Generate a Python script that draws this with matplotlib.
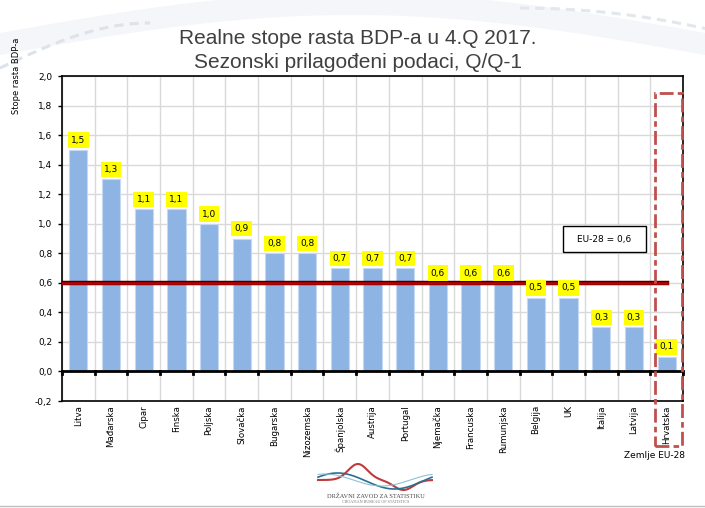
import numpy as np
import matplotlib
matplotlib.use('Agg')
import matplotlib.pyplot as plt
import matplotlib.patheffects as pe
from matplotlib.patches import Rectangle

# data
countries = ['Litva', 'Mađarska', 'Cipar', 'Finska', 'Poljska', 'Slovačka', 'Bugarska',
             'Nizozemska', 'Španjolska', 'Austrija', 'Portugal', 'Njemačka', 'Francuska',
             'Rumunjska', 'Belgija', 'UK', 'Italija', 'Latvija', 'Hrvatska']
growth = [1.5, 1.3, 1.1, 1.1, 1.0, 0.9, 0.8, 0.8, 0.7, 0.7, 0.7, 0.6, 0.6, 0.6, 0.5, 0.5, 0.3, 0.3, 0.1]
eu28 = 0.6
yticks = [-0.2, 0.0, 0.2, 0.4, 0.6, 0.8, 1.0, 1.2, 1.4, 1.6, 1.8, 2.0]

title = 'Realne stope rasta BDP-a u 4.Q 2017.\nSezonski prilagođeni podaci, Q/Q-1'

fig = plt.figure(figsize=(7.05, 5.08), dpi=100)

# faint background swooshes
bg = fig.add_axes([0, 0, 1, 1], zorder=-5)
bg.set_xlim(0, 705)
bg.set_ylim(508, 0)
bg.axis('off')
t = np.linspace(0, 705, 200)
mid = 45 - 40 * np.sin(t / 705 * np.pi)
bg.fill_between(t, mid + 10, mid - 12, color='#f4f6f9', lw=0)
ta = np.linspace(0, 150, 60)
bg.plot(ta, 68 - 45 * np.sin(ta / 300 * np.pi), color='#dde3ea', lw=2.2, ls=(0, (3, 2)))
tb = np.linspace(520, 705, 60)
bg.plot(tb, 8 + 0.0006 * (tb - 520) ** 2, color='#e2e7ed', lw=2.2, ls=(0, (3, 2)))
bg.plot([0, 705], [506, 506], color='#bfbfbf', lw=1)

# logo
lx = np.linspace(318, 432, 200)
u = (lx - 318) / 114
bg.plot(lx, 480 - 16 * np.exp(-((u - 0.35) / 0.12) ** 2) + 10 * np.exp(-((u - 0.75) / 0.12) ** 2),
        color='#c0393b', lw=1.5)
bg.plot(lx, 481 - 8 * np.sin(u * 2 * np.pi + 0.5), color='#2a6f8f', lw=1.2)
bg.plot(lx, 480 - 6 * np.sin(u * 2 * np.pi + 1.2), color='#8fc1d6', lw=0.8)
bg.text(376, 496, 'DRŽAVNI ZAVOD ZA STATISTIKU', ha='center', va='center',
        fontsize=4.6, family='Liberation Serif', color='#4a4a4a')
bg.text(376, 502, 'CROATIAN BUREAU OF STATISTICS', ha='center', va='center',
        fontsize=3, family='Liberation Serif', color='#7a7a7a')

ax = fig.add_axes([62 / 705, 1 - 401 / 508, 621 / 705, 325 / 508])
x = np.arange(len(countries))
ax.bar(x, growth, width=0.56, color='#8eb4e3', edgecolor='#c6d9f1', linewidth=0.8, zorder=3)

for xi, v in zip(x, growth):
    ax.annotate(f'{v:.1f}'.replace('.', ','), (xi, v), xytext=(0, 7), textcoords='offset points',
                ha='center', va='center', fontsize=6.5, family='DejaVu Sans', zorder=5,
                bbox=dict(boxstyle='square,pad=0.35', fc='#ffff00', ec='none'))

ax.plot([-0.5, len(countries) - 1], [eu28, eu28], color='#c00000', lw=1.8, zorder=4,
        path_effects=[pe.Stroke(linewidth=3.2, foreground='#400000'), pe.Normal()])
ax.axhline(0, color='black', lw=2, zorder=4)

ax.set_xlim(-0.5, len(countries) - 0.5)
ax.set_ylim(-0.2, 2.0)
ax.set_yticks(yticks)
ax.set_yticklabels([f'{v:.1f}'.replace('.', ',') for v in yticks], fontsize=6.5)
ax.set_xticks(x)
ax.set_xticklabels(countries, rotation=90, fontsize=6.2, va='top')
ax.tick_params(axis='x', length=0, pad=3)
ax.tick_params(axis='y', length=3, width=1, pad=4)
ax.set_xticks(np.arange(-0.5, len(countries)), minor=True)
ax.grid(True, which='minor', axis='x', color='#d9d9d9', lw=1, zorder=0)
ax.grid(True, which='major', axis='y', color='#d9d9d9', lw=1, zorder=0)
ax.tick_params(axis='x', which='minor', length=0)
for s in ax.spines.values():
    s.set_color('black')
    s.set_linewidth(1.2)

# ticks on zero line
for b in np.arange(-0.5, len(countries)):
    ax.plot([b, b], [0, -0.015], color='black', lw=2, zorder=4, clip_on=False)

ax.set_ylabel('Stope rasta BDP-a', fontsize=6)
ax.yaxis.set_label_coords(-0.066, 1.0)

# EU-28 box
ax.add_patch(Rectangle((14.83, 0.806), 2.54, 0.176, fill=True, fc='white', ec='black',
                       lw=1, zorder=6))
ax.text(16.1, 0.894, 'EU-28 = 0,6', ha='center', va='center', fontsize=6.5, zorder=7)

# Croatia highlight
fig.patches.append(Rectangle((655 / 705, 1 - 446 / 508), 27 / 705, 353 / 508,
                             transform=fig.transFigure, fill=False, ec='#c0504d', lw=2,
                             ls=(0, (5, 1.5, 2, 1.5)), zorder=10))
fig.text(655 / 705, 1 - 456 / 508, 'Zemlje EU-28', ha='center', va='center', fontsize=6.5)

fig.text(358 / 705, 1 - 29 / 508, title, ha='center', va='top', fontsize=15,
         family='Liberation Sans', color='#404040', linespacing=1.3)

fig.savefig('out.png', dpi=100)
